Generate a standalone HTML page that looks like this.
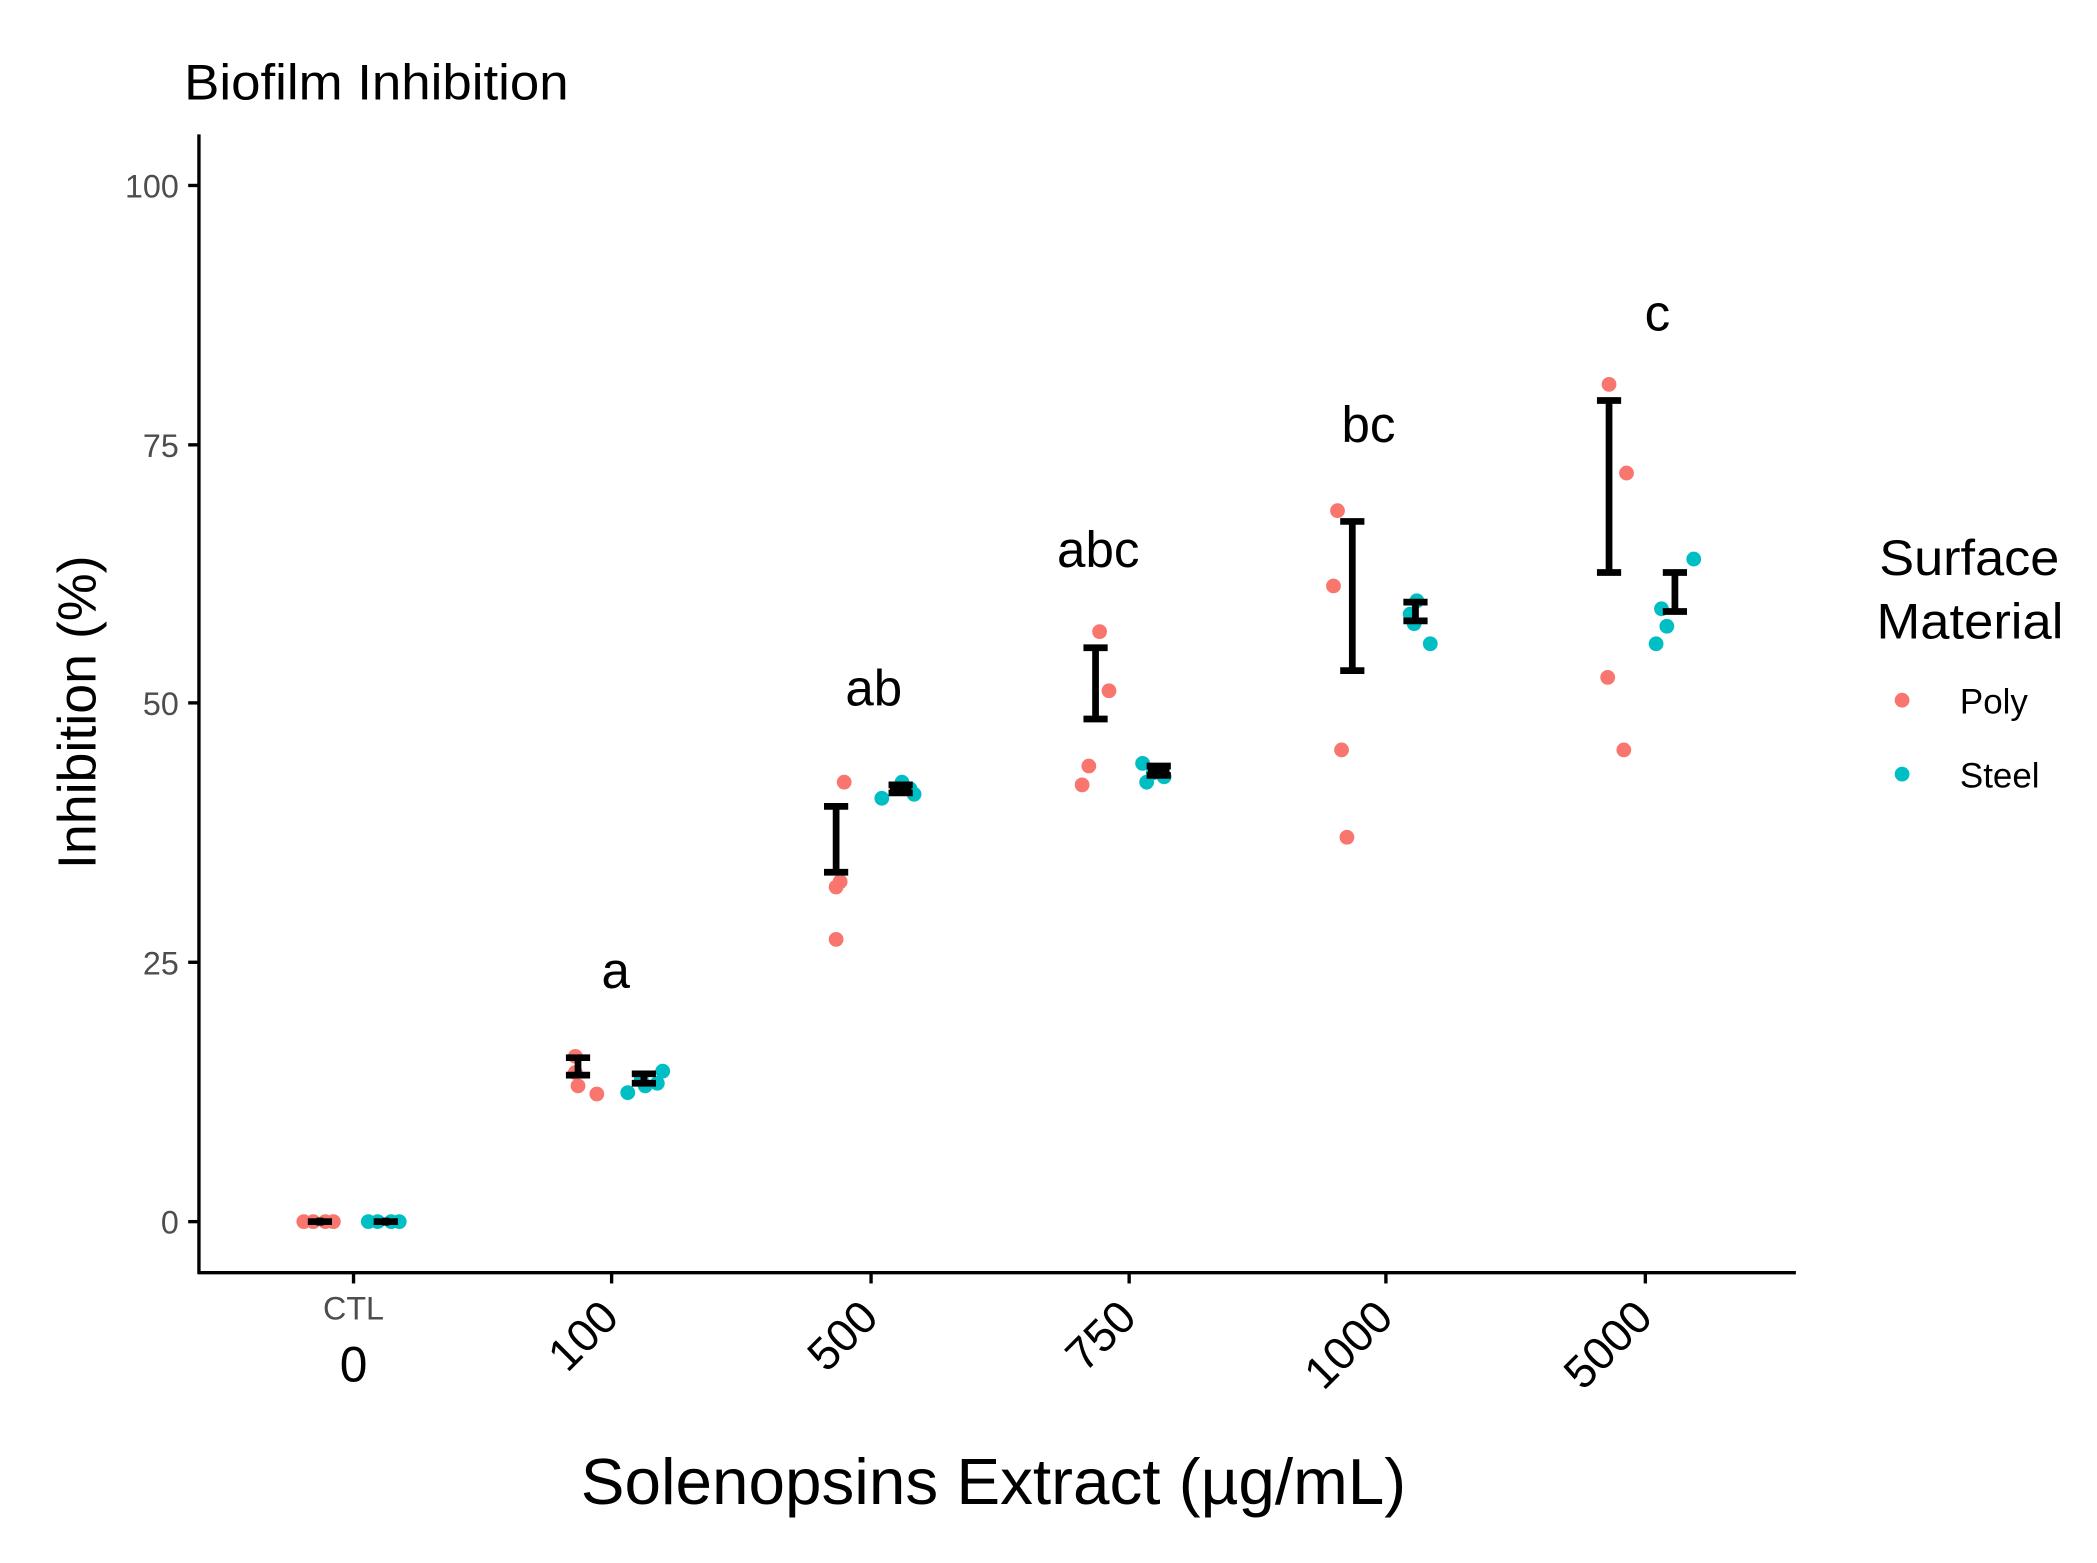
<!DOCTYPE html>
<html><head><style>html,body{margin:0;padding:0;background:#fff}svg{display:block}</style></head>
<body>
<svg width="2097" height="1563" viewBox="0 0 1560 1163" preserveAspectRatio="none" xmlns="http://www.w3.org/2000/svg" font-family="Liberation Sans, sans-serif">
<rect width="1560" height="1163" fill="#fff"/>
<text x="137" y="74" font-size="37" fill="#000" textLength="286" lengthAdjust="spacingAndGlyphs">Biofilm Inhibition</text>
<g stroke="#000" stroke-width="2.5">
<line x1="148" y1="100" x2="148" y2="948"/>
<line x1="147" y1="947" x2="1336" y2="947"/>
<line x1="140" y1="138" x2="148" y2="138"/><line x1="140" y1="331" x2="148" y2="331"/>
<line x1="140" y1="523" x2="148" y2="523"/><line x1="140" y1="716" x2="148" y2="716"/>
<line x1="140" y1="909" x2="148" y2="909"/>
<line x1="263" y1="947" x2="263" y2="955"/><line x1="455" y1="947" x2="455" y2="955"/>
<line x1="648" y1="947" x2="648" y2="955"/><line x1="840" y1="947" x2="840" y2="955"/>
<line x1="1031" y1="947" x2="1031" y2="955"/><line x1="1224" y1="947" x2="1224" y2="955"/>
</g>
<g font-size="24" fill="#4d4d4d" text-anchor="end">
<text x="133" y="147">100</text><text x="133" y="340">75</text><text x="133" y="532">50</text>
<text x="133" y="725">25</text><text x="133" y="918">0</text>
</g>
<text x="263" y="982" font-size="24" fill="#4d4d4d" text-anchor="middle">CTL</text>
<text x="263" y="1028" font-size="37" fill="#000" text-anchor="middle">0</text>
<g font-size="34" fill="#000" text-anchor="end">
<text transform="translate(462,982) rotate(-45)">100</text>
<text transform="translate(655,982) rotate(-45)">500</text>
<text transform="translate(847,982) rotate(-45)">750</text>
<text transform="translate(1038,982) rotate(-45)">1000</text>
<text transform="translate(1231,982) rotate(-45)">5000</text>
</g>
<text x="432" y="1119" font-size="48" textLength="614" lengthAdjust="spacingAndGlyphs">Solenopsins Extract (µg/mL)</text>
<text transform="translate(71,530) rotate(-90)" font-size="40" text-anchor="middle">Inhibition (%)</text>
<g font-size="38" text-anchor="middle">
<text x="458" y="735">a</text><text x="650" y="525">ab</text><text x="817" y="422">abc</text>
<text x="1018" y="329">bc</text><text x="1233" y="246">c</text>
</g>
<g fill="#F8766D">
<circle cx="226" cy="909" r="5.5"/><circle cx="233" cy="909" r="5.5"/><circle cx="242" cy="909" r="5.5"/><circle cx="248" cy="909" r="5.5"/>
<circle cx="428" cy="786" r="5.5"/><circle cx="430" cy="808" r="5.5"/><circle cx="444" cy="814" r="5.5"/><circle cx="428" cy="798" r="5.5"/>
<circle cx="628" cy="582" r="5.5"/><circle cx="622" cy="660" r="5.5"/><circle cx="625" cy="656" r="5.5"/><circle cx="622" cy="699" r="5.5"/>
<circle cx="818" cy="470" r="5.5"/><circle cx="825" cy="514" r="5.5"/><circle cx="810" cy="570" r="5.5"/><circle cx="805" cy="584" r="5.5"/>
<circle cx="995" cy="380" r="5.5"/><circle cx="992" cy="436" r="5.5"/><circle cx="998" cy="558" r="5.5"/><circle cx="1002" cy="623" r="5.5"/>
<circle cx="1197" cy="286" r="5.5"/><circle cx="1210" cy="352" r="5.5"/><circle cx="1196" cy="504" r="5.5"/><circle cx="1208" cy="558" r="5.5"/>
<circle cx="1415" cy="521" r="5.5"/>
</g>
<g fill="#00BFC4">
<circle cx="274" cy="909" r="5.5"/><circle cx="281" cy="909" r="5.5"/><circle cx="291" cy="909" r="5.5"/><circle cx="297" cy="909" r="5.5"/>
<circle cx="467" cy="813" r="5.5"/><circle cx="480" cy="808" r="5.5"/><circle cx="489" cy="806" r="5.5"/><circle cx="493" cy="797" r="5.5"/><circle cx="477" cy="803" r="5.5"/>
<circle cx="656" cy="594" r="5.5"/><circle cx="671" cy="582" r="5.5"/><circle cx="680" cy="591" r="5.5"/><circle cx="677" cy="587" r="5.5"/>
<circle cx="850" cy="568" r="5.5"/><circle cx="853" cy="582" r="5.5"/><circle cx="866" cy="578" r="5.5"/><circle cx="858" cy="575" r="5.5"/>
<circle cx="1054" cy="447" r="5.5"/><circle cx="1052" cy="464" r="5.5"/><circle cx="1064" cy="479" r="5.5"/><circle cx="1049" cy="457" r="5.5"/>
<circle cx="1260" cy="416" r="5.5"/><circle cx="1236" cy="453" r="5.5"/><circle cx="1240" cy="466" r="5.5"/><circle cx="1232" cy="479" r="5.5"/>
<circle cx="1415" cy="576" r="5.5"/>
</g>
<g stroke="#000" stroke-width="5" fill="none">
<path d="M229 909H247M238 906V912"/>
<path d="M278 909H296M287 906V912"/>
<path d="M421 787H439M421 800H439M430 787V800"/>
<path d="M470 799H488M470 806H488M479 799V806"/>
<path d="M613 600H631M613 649H631M622 600V649"/>
<path d="M661 584H679M661 590H679M670 584V590M662 587H678"/>
<path d="M806 482H824M806 535H824M815 482V535"/>
<path d="M853 570H871M853 577H871M862 570V577M854 573.5H870"/>
<path d="M997 388H1015M997 499H1015M1006 388V499"/>
<path d="M1044 448H1062M1044 462H1062M1053 448V462"/>
<path d="M1188 298H1206M1188 426H1206M1197 298V426"/>
<path d="M1237 426H1255M1237 455H1255M1246 426V455"/>
</g>
<g font-size="37">
<text x="1398" y="428" textLength="134" lengthAdjust="spacingAndGlyphs">Surface</text>
<text x="1396" y="475" textLength="139" lengthAdjust="spacingAndGlyphs">Material</text>
</g>
<g font-size="26">
<text x="1458" y="531">Poly</text><text x="1458" y="586">Steel</text>
</g>
</svg>
</body></html>
